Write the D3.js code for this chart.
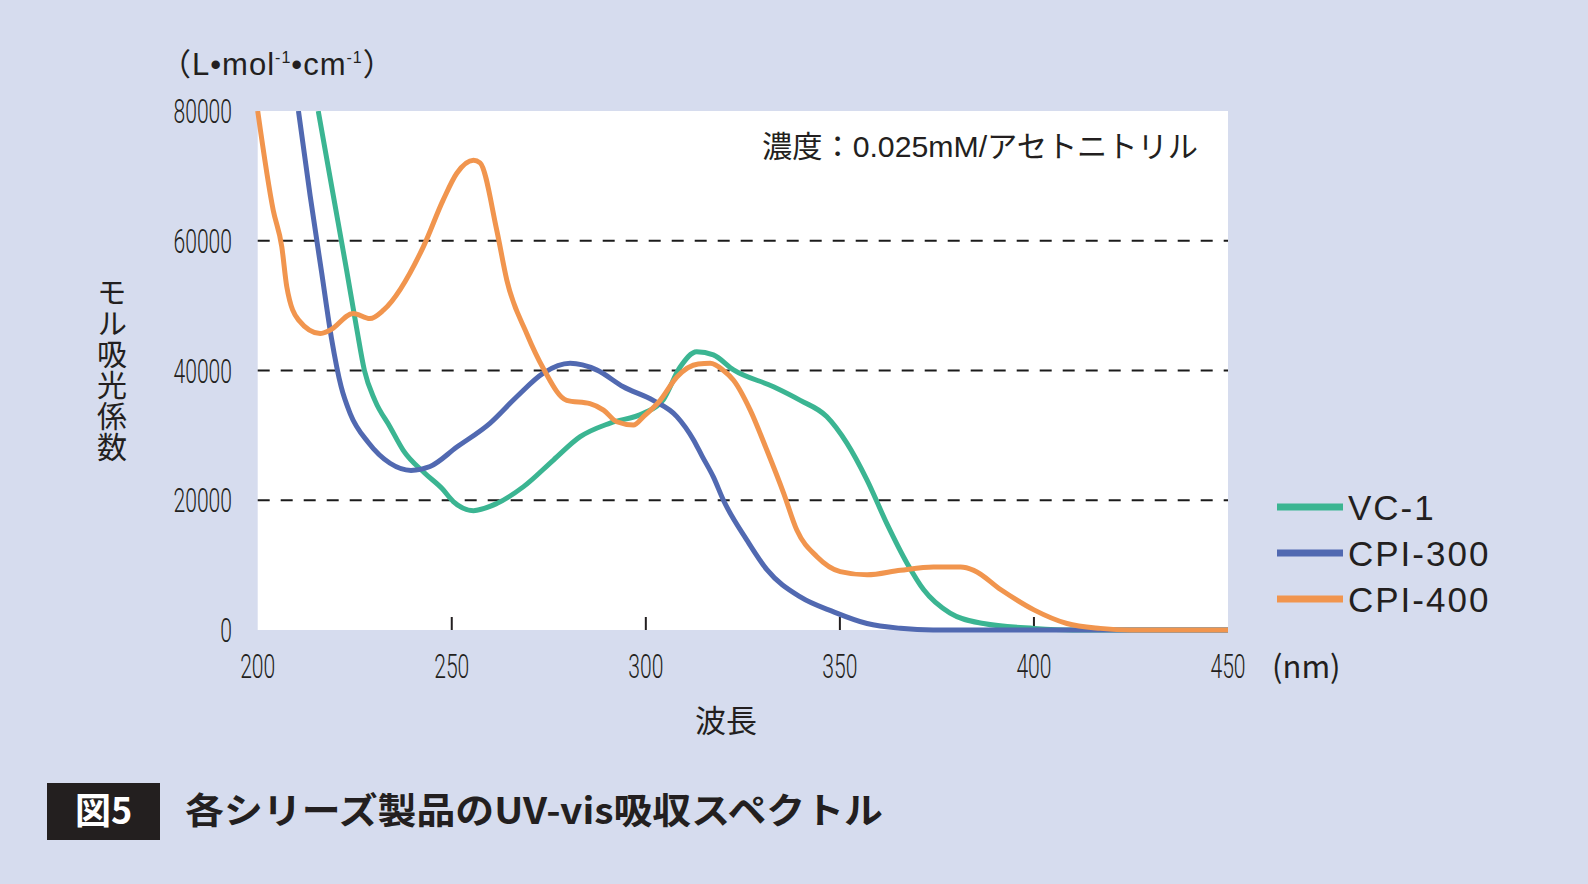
<!DOCTYPE html>
<html>
<head>
<meta charset="utf-8">
<script src="https://cdn.jsdelivr.net/npm/d3@7"></script>
<style>
  html, body { margin: 0; padding: 0; background: #d6dcee; }
  svg { display: block; }
</style>
</head>
<body>
<div id="container"></div>
<script>
// wavelength (nm) and molar absorptivity readings for each product
const vc1Wl  = [215.6, 219.5, 222.9, 225.5, 227.5, 230.2, 234.1, 237.5, 243, 247.5, 250.4, 255.6, 261.6, 268.5, 276.2, 283.1, 290.8, 299.4, 304.5, 308.8, 313.1, 317.4, 322.6, 332.9, 339.8, 346.6, 351.8, 357, 362.1, 367.3, 371.6, 378.4, 387, 400, 410, 450]
const vc1Abs = [80000, 66900, 55500, 46500, 40000, 35400, 31300, 27700, 24200, 21800, 19800, 18400, 19500, 22100, 26200, 29800, 31900, 33400, 35500, 40500, 42900, 42400, 40100, 37500, 35400, 32900, 28800, 23100, 16400, 10300, 6200, 2600, 1000, 250, 0, 0]

const cpi300Wl  = [210.5, 213.5, 216.5, 219, 221.5, 223.8, 228.5, 234.1, 239.5, 244.4, 251.3, 259.9, 266.8, 273.6, 280.5, 287.3, 294.2, 301.9, 308, 312.3, 314.5, 317.4, 320, 326, 331.2, 339.8, 348.4, 357, 365.6, 374, 450]
const cpi300Abs = [80000, 67000, 55000, 45000, 37500, 33400, 28900, 25700, 24600, 25200, 28200, 31900, 36000, 39600, 41100, 40100, 37500, 35400, 32900, 29300, 26800, 23600, 20000, 13900, 9300, 5100, 2800, 1000, 260, 0, 0]

const cpi400Wl  = [200, 204, 206.2, 207.5, 210.5, 216.1, 218.6, 224.6, 228.9, 232.4, 242.7, 247.8, 251.3, 255.6, 257.3, 261.6, 264.2, 269.3, 273.6, 279.6, 285.6, 289.1, 292.5, 296.8, 299.4, 303.7, 308, 313.5, 316.6, 320, 322.6, 326.9, 331.2, 335.5, 338.9, 344.1, 350.1, 357, 365.6, 374.1, 381.1, 384.5, 391.5, 400, 408.5, 417.1, 425, 450]
const cpi400Abs = [80000, 64700, 59100, 52900, 47800, 45700, 46200, 48800, 48000, 49300, 59100, 66300, 70400, 72400, 72000, 61600, 53900, 45700, 40300, 35400, 34900, 33900, 32100, 31600, 32900, 35400, 39000, 41000, 41100, 40000, 38500, 33900, 27700, 21100, 15400, 11300, 9000, 8500, 9200, 9700, 9700, 9200, 6200, 3100, 1000, 250, 0, 0]

const seriesNames  = ["VC-1", "CPI-300", "CPI-400"]
const seriesColors = ["#3bb592", "#5169b1", "#f1954e"]

const xTicks = [200, 250, 300, 350, 400, 450]
const xInnerTicks = [250, 300, 350, 400]
const yTicks = [0, 20000, 40000, 60000, 80000]
const yGrid = [20000, 40000, 60000]

const width = 1588
const height = 884
const plot = {left: 257.7, right: 1228, top: 111, bottom: 630}
const ink = "#231f20"
const jp = "'Liberation Sans', 'Noto Sans CJK JP', sans-serif"

const x = d3.scaleLinear().domain([200, 450]).range([plot.left, plot.right])
const y = d3.scaleLinear().domain([0, 80000]).range([plot.bottom, plot.top])

const svg = d3.create("svg")
    .attr("width", width)
    .attr("height", height)

svg.append("rect")
    .attr("width", width)
    .attr("height", height)
    .attr("fill", "#d6dcee")

svg.append("rect")
    .attr("x", plot.left)
    .attr("y", plot.top)
    .attr("width", plot.right - plot.left)
    .attr("height", plot.bottom - plot.top)
    .attr("fill", "#fff")

svg.append("clipPath")
    .attr("id", "clip")
  .append("rect")
    .attr("x", 0)
    .attr("y", plot.top)
    .attr("width", plot.right)
    .attr("height", height - plot.top)

// dashed grid
svg.append("g")
    .selectAll("line")
    .data(yGrid)
    .join("line")
    .attr("x1", plot.left)
    .attr("x2", plot.right)
    .attr("y1", d => y(d))
    .attr("y2", d => y(d))
    .attr("stroke", "#1b1b1b")
    .attr("stroke-width", 2)
    .attr("stroke-dasharray", "12,11")

// small ticks on the bottom
svg.append("g")
    .selectAll("line")
    .data(xInnerTicks)
    .join("line")
    .attr("x1", d => x(d))
    .attr("x2", d => x(d))
    .attr("y1", plot.bottom - 13)
    .attr("y2", plot.bottom)
    .attr("stroke", ink)
    .attr("stroke-width", 2)

// tick labels (narrow digits)
const digitW = 11.7
svg.append("g")
    .selectAll("text")
    .data(yTicks)
    .join("text")
    .attr("x", 232)
    .attr("y", d => y(d))
    .attr("dy", "0.36em")
    .attr("text-anchor", "end")
    .attr("font-family", "Roboto, 'Liberation Sans', sans-serif")
    .attr("font-weight", 300)
    .attr("font-size", 34)
    .attr("fill", ink)
    .attr("textLength", d => String(d).length * digitW)
    .attr("lengthAdjust", "spacingAndGlyphs")
    .text(d => d)

svg.append("g")
    .selectAll("text")
    .data(xTicks)
    .join("text")
    .attr("x", d => x(d))
    .attr("y", 666)
    .attr("dy", "0.36em")
    .attr("text-anchor", "middle")
    .attr("font-family", "Roboto, 'Liberation Sans', sans-serif")
    .attr("font-weight", 300)
    .attr("font-size", 34)
    .attr("fill", ink)
    .attr("textLength", d => String(d).length * digitW)
    .attr("lengthAdjust", "spacingAndGlyphs")
    .text(d => d)

// curves
const series = [
    {wl: vc1Wl, abs: vc1Abs},
    {wl: cpi300Wl, abs: cpi300Abs},
    {wl: cpi400Wl, abs: cpi400Abs}
]

const line = d3.line()
    .x(d => x(d[0]))
    .y(d => y(d[1]))
    .curve(d3.curveMonotoneX)

svg.append("g")
    .attr("clip-path", "url(#clip)")
    .selectAll("path")
    .data(series)
    .join("path")
    .attr("d", s => line(d3.zip(s.wl, s.abs)))
    .attr("fill", "none")
    .attr("stroke", (s, i) => seriesColors[i])
    .attr("stroke-width", 5)
    .attr("stroke-linejoin", "round")

// legend
const legend = svg.append("g")
    .attr("transform", "translate(1277,507)")

legend.selectAll("line")
    .data(seriesNames)
    .join("line")
    .attr("x1", 0)
    .attr("x2", 66)
    .attr("y1", (d, i) => i * 46)
    .attr("y2", (d, i) => i * 46)
    .attr("stroke", (d, i) => seriesColors[i])
    .attr("stroke-width", 7)

legend.selectAll("text")
    .data(seriesNames)
    .join("text")
    .attr("x", 71)
    .attr("y", (d, i) => i * 46)
    .attr("dy", "0.36em")
    .attr("font-family", "'Liberation Sans', sans-serif")
    .attr("font-size", 35)
    .attr("letter-spacing", 2)
    .attr("fill", ink)
    .text(d => d)

// units and labels
const unit = svg.append("text")
    .attr("x", 160)
    .attr("y", 75)
    .attr("font-family", jp)
    .attr("font-size", 31)
    .attr("letter-spacing", 1)
    .attr("fill", ink)
unit.append("tspan").attr("font-family", "'Noto Sans CJK JP'").text("（")
unit.append("tspan").text("L•mol")
unit.append("tspan").attr("font-size", 16).attr("dy", -12).text("-1")
unit.append("tspan").attr("dy", 12).text("•cm")
unit.append("tspan").attr("font-size", 16).attr("dy", -12).text("-1")
unit.append("tspan").attr("dy", 12).attr("font-family", "'Noto Sans CJK JP'").text("）")

svg.append("text")
    .attr("x", 1272)
    .attr("y", 667)
    .attr("dy", "0.36em")
    .attr("font-family", "'Noto Sans CJK JP'")
    .attr("font-size", 31)
    .attr("fill", ink)
    .text("(nm)")

svg.append("text")
    .attr("x", 762)
    .attr("y", 146)
    .attr("dy", "0.36em")
    .attr("font-family", jp)
    .attr("font-size", 30)
    .attr("fill", ink)
    .attr("textLength", 436)
    .attr("lengthAdjust", "spacingAndGlyphs")
    .text("濃度：0.025mM/アセトニトリル")

svg.append("text")
    .attr("x", 726)
    .attr("y", 721)
    .attr("dy", "0.36em")
    .attr("text-anchor", "middle")
    .attr("font-family", "'Noto Sans CJK JP'")
    .attr("font-size", 31)
    .attr("fill", ink)
    .text("波長")

// vertical y-axis title
svg.append("text")
    .attr("x", 112)
    .attr("y", 277)
    .attr("writing-mode", "vertical-rl")
    .attr("font-family", "'Noto Sans CJK JP'")
    .attr("font-size", 30)
    .attr("letter-spacing", 1)
    .attr("fill", ink)
    .text("モル吸光係数")

// caption
svg.append("rect")
    .attr("x", 47)
    .attr("y", 783)
    .attr("width", 113)
    .attr("height", 57)
    .attr("fill", "#231f1f")

svg.append("text")
    .attr("x", 103.5)
    .attr("y", 811.5)
    .attr("dy", "0.36em")
    .attr("text-anchor", "middle")
    .attr("font-family", "'Noto Sans CJK JP'")
    .attr("font-weight", 700)
    .attr("font-size", 36)
    .attr("fill", "#fff")
    .text("図5")

svg.append("text")
    .attr("x", 185)
    .attr("y", 811.5)
    .attr("dy", "0.36em")
    .attr("font-family", "'Noto Sans CJK JP'")
    .attr("font-weight", 700)
    .attr("font-size", 36)
    .attr("fill", ink)
    .attr("textLength", 698)
    .attr("lengthAdjust", "spacingAndGlyphs")
    .text("各シリーズ製品のUV-vis吸収スペクトル")

document.querySelector("#container").appendChild(svg.node())
</script>
</body>
</html>
